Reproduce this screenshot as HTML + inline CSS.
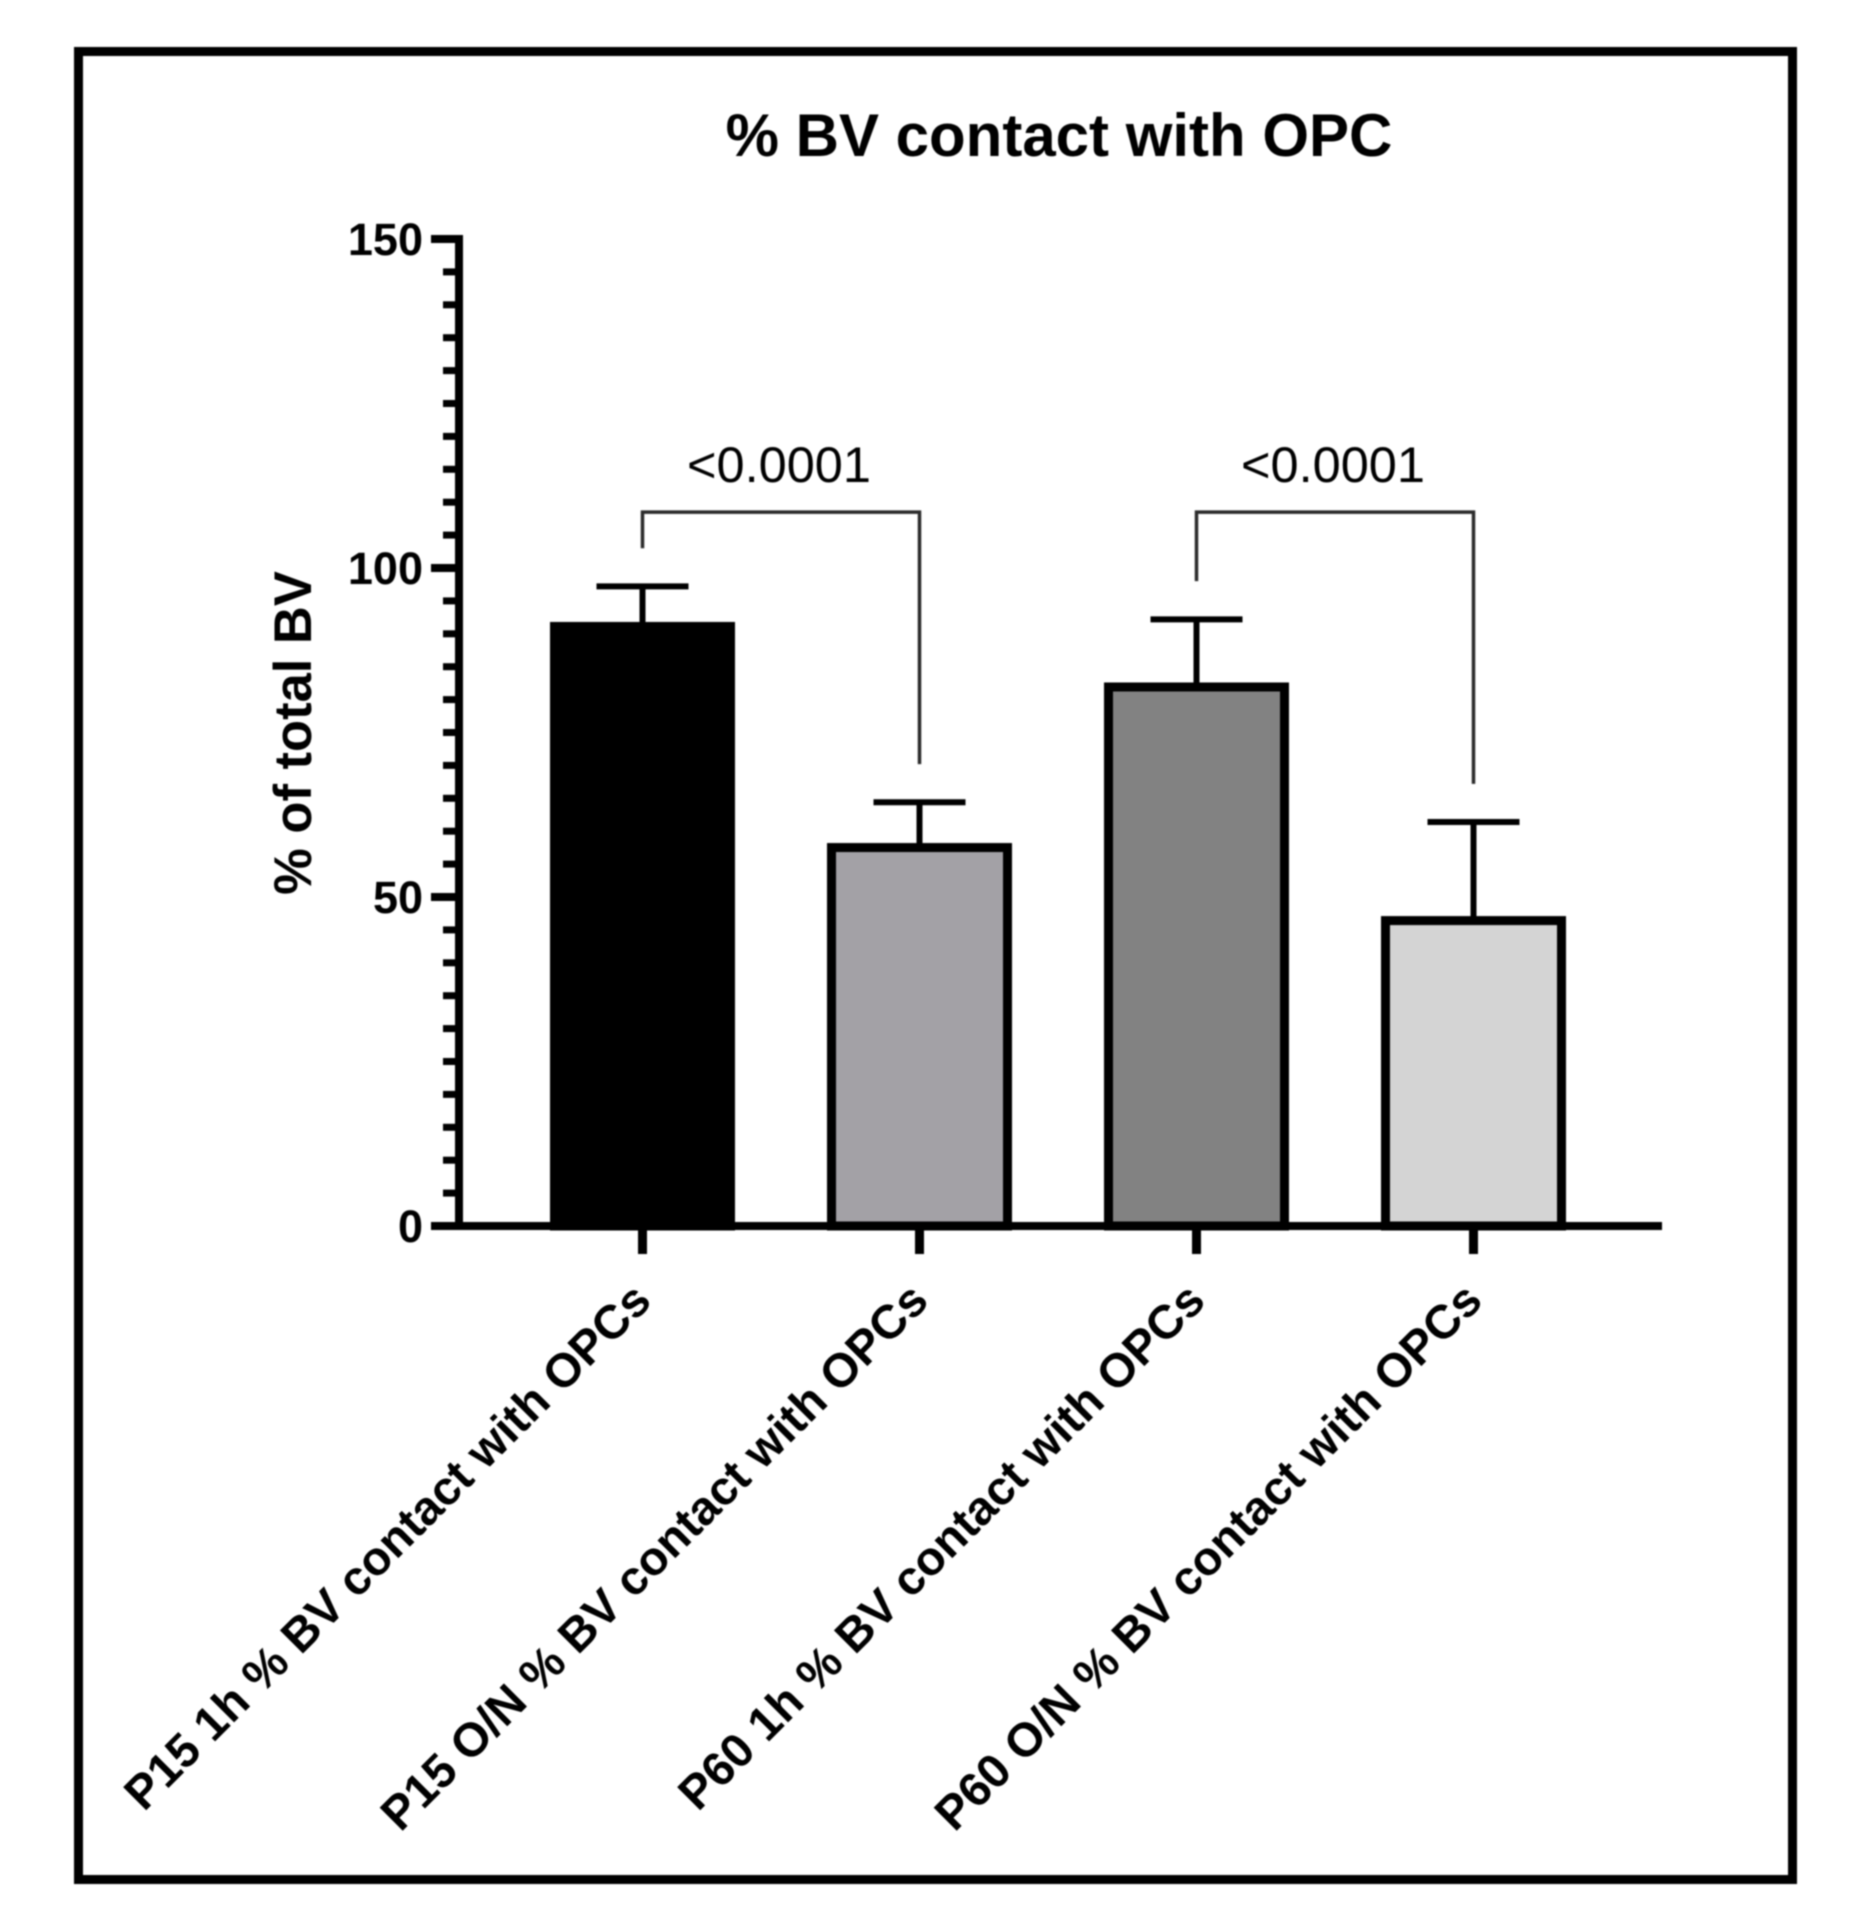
<!DOCTYPE html>
<html lang="en">
<head>
<meta charset="utf-8">
<title>% BV contact with OPC</title>
<style>
  html, body { margin: 0; padding: 0; background: #fff; }
  body { width: 1850px; height: 1928px; overflow: hidden; }
  svg { display: block; }
  text { font-family: "Liberation Sans", Arial, sans-serif; fill: #000; }
  #art { filter: blur(0.8px); }
</style>
</head>
<body>
<svg id="chart" width="1850" height="1928" viewBox="0 0 1850 1928" xmlns="http://www.w3.org/2000/svg">
  <rect x="0" y="0" width="1850" height="1928" fill="#fff"/>
  <g id="art">
    <rect x="78.5" y="51.5" width="1714" height="1828" fill="#fff" stroke="#000" stroke-width="9"/>
    <text x="1059" y="156" font-size="60" font-weight="700" text-anchor="middle">% BV contact with OPC</text>
    <text transform="translate(311 733) rotate(-90)" font-size="52.5" font-weight="700" text-anchor="middle">% of total BV</text>
    <g id="bars"></g>
    <g id="errors"></g>
    <g id="axes"></g>
    <g id="brackets"></g>
  </g>
</svg>
<script>
const categories = [
  "P15 1h % BV contact with OPCs",
  "P15 O/N % BV contact with OPCs",
  "P60 1h % BV contact with OPCs",
  "P60 O/N % BV contact with OPCs"
];
const means = [91.8, 58.2, 82.6, 47.1];
const errors = [5.4, 6.2, 9.6, 14.3];
const barFills = ["#000000", "#a3a1a6", "#828282", "#d4d4d4"];
const yTicks = [0, 50, 100, 150];
const yMinorTicks = [5, 10, 15, 20, 25, 30, 35, 40, 45, 55, 60, 65, 70, 75, 80, 85, 90, 95, 105, 110, 115, 120, 125, 130, 135, 140, 145];
const comparisonLeft = [0, 2];
const comparisonRight = [1, 3];
const comparisonLabels = ["<0.0001", "<0.0001"];
const bracketTop = [108.5, 108.5];
const bracketLeftEnd = [103, 98];
const bracketRightEnd = [70.2, 67.2];

const SVG_NS = "http://www.w3.org/2000/svg";
const yScale = function (v) { return 1226 - 6.58 * v; };
const xScale = function (i) { return 642.5 + 277 * i; };

function make(parent, tag, attrs, text) {
  const el = document.createElementNS(SVG_NS, tag);
  Object.keys(attrs).forEach(function (k) { el.setAttribute(k, attrs[k]); });
  if (text !== undefined) el.textContent = text;
  parent.appendChild(el);
  return el;
}

const barsLayer = document.getElementById("bars");
const errorsLayer = document.getElementById("errors");
const axesLayer = document.getElementById("axes");
const bracketsLayer = document.getElementById("brackets");

const BAR_WIDTH = 185;
const BAR_STROKE = 9;
const CAP_WIDTH = 92;

means.forEach(function (m, i) {
  const cx = xScale(i);
  const topY = yScale(m);
  const errY = yScale(m + errors[i]);

  const stem = make(errorsLayer, "line", { x1: cx, x2: cx, y1: errY, y2: topY + 2, stroke: "#000", "stroke-width": 6 });
  
  

  const cap = make(errorsLayer, "line", { x1: cx - CAP_WIDTH / 2, x2: cx + CAP_WIDTH / 2, y1: errY, y2: errY, stroke: "#000", "stroke-width": 6 });
  
  

  const bar = make(barsLayer, "rect", {
    x: cx - BAR_WIDTH / 2 + BAR_STROKE / 2,
    y: topY + BAR_STROKE / 2,
    width: BAR_WIDTH - BAR_STROKE,
    height: yScale(0) - topY - BAR_STROKE / 2,
    fill: barFills[i],
    stroke: "#000",
    "stroke-width": BAR_STROKE
  });
  
  
});

const yAxisLine = make(axesLayer, "line", { x1: 459, x2: 459, y1: yScale(150) - 4, y2: yScale(0) + 4, stroke: "#000", "stroke-width": 8 });



const xAxisLine = make(axesLayer, "line", { x1: 431, x2: 1662, y1: yScale(0), y2: yScale(0), stroke: "#000", "stroke-width": 8 });



yTicks.forEach(function (t) {
  const tick = make(axesLayer, "line", { x1: 431, x2: 459, y1: yScale(t), y2: yScale(t), stroke: "#000", "stroke-width": 8 });
  
  

  const label = make(axesLayer, "text", { x: 423, y: yScale(t) + 16, "font-size": 45, "font-weight": 700, "text-anchor": "end" }, String(t));
  
  
});

yMinorTicks.forEach(function (t) {
  const tick = make(axesLayer, "line", { x1: 443, x2: 459, y1: yScale(t), y2: yScale(t), stroke: "#000", "stroke-width": 7 });
  
  
});

categories.forEach(function (c, i) {
  const cx = xScale(i);
  const tick = make(axesLayer, "line", { x1: cx, x2: cx, y1: yScale(0), y2: 1254, stroke: "#000", "stroke-width": 9 });
  
  

  const ax = cx + 11;
  const ay = 1303;
  const label = make(axesLayer, "text", {
    transform: "translate(" + ax + " " + ay + ") rotate(-45)",
    "font-size": 47.5,
    "font-weight": 700,
    "text-anchor": "end"
  }, c);
  
  
});

comparisonLabels.forEach(function (txt, i) {
  const xl = xScale(comparisonLeft[i]);
  const xr = xScale(comparisonRight[i]);
  const yt = yScale(bracketTop[i]);
  const d = "M" + xl + " " + yScale(bracketLeftEnd[i]) + " L" + xl + " " + yt + " L" + xr + " " + yt + " L" + xr + " " + yScale(bracketRightEnd[i]);
  const path = make(bracketsLayer, "path", { d: d, fill: "none", stroke: "#2b2b2b", "stroke-width": 3.5 });
  
  

  const label = make(bracketsLayer, "text", { x: (xl + xr) / 2 - 2, y: 482, "font-size": 50.5, "text-anchor": "middle" }, txt);
  
  
});
</script>
</body>
</html>
